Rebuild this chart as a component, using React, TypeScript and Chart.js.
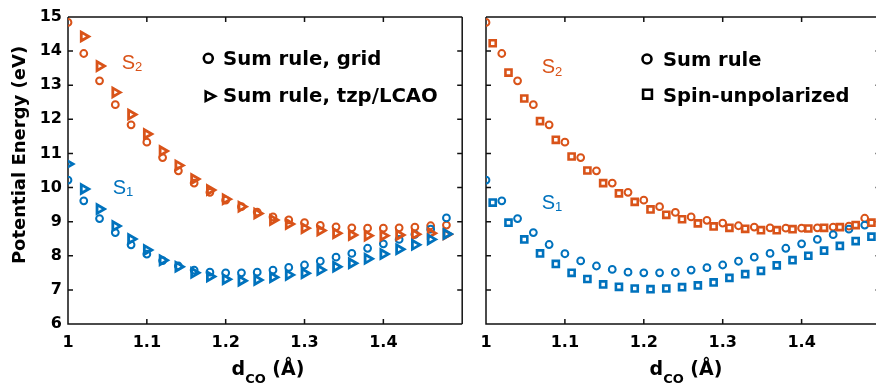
import React, { useEffect, useRef } from "react";
import { Chart, registerables } from "chart.js";

Chart.register(...registerables);

// ---------- data ----------
const xSum = [1.0, 1.02, 1.04, 1.06, 1.08, 1.1, 1.12, 1.14, 1.16, 1.18, 1.2, 1.22, 1.24, 1.26, 1.28, 1.3, 1.32, 1.34, 1.36, 1.38, 1.4, 1.42, 1.44, 1.46, 1.48];
const xUnpol = [1.0085, 1.0285, 1.0485, 1.0685, 1.0885, 1.1085, 1.1285, 1.1485, 1.1685, 1.1885, 1.2085, 1.2285, 1.2485, 1.2685, 1.2885, 1.3085, 1.3285, 1.3485, 1.3685, 1.3885, 1.4085, 1.4285, 1.4485, 1.4685, 1.4885];

// Sum rule, grid (left panel)
const s2SumLeft = [14.84, 13.93, 13.13, 12.43, 11.84, 11.33, 10.88, 10.49, 10.13, 9.86, 9.63, 9.44, 9.28, 9.14, 9.05, 8.97, 8.89, 8.85, 8.82, 8.81, 8.81, 8.82, 8.84, 8.88, 8.9];
const s1SumLeft = [10.22, 9.61, 9.09, 8.68, 8.32, 8.05, 7.86, 7.7, 7.58, 7.52, 7.5, 7.5, 7.52, 7.58, 7.66, 7.73, 7.84, 7.96, 8.07, 8.22, 8.35, 8.48, 8.63, 8.78, 9.11];
// Sum rule, tzp/LCAO
const s2Tzp = [null, 14.43, 13.56, 12.79, 12.14, 11.57, 11.07, 10.65, 10.25, 9.93, 9.66, 9.44, 9.24, 9.05, 8.93, 8.81, 8.74, 8.66, 8.61, 8.59, 8.59, 8.61, 8.63, 8.66, 8.63];
const s1Tzp = [10.69, 9.96, 9.37, 8.87, 8.49, 8.17, 7.87, 7.68, 7.5, 7.39, 7.31, 7.27, 7.29, 7.37, 7.44, 7.49, 7.58, 7.68, 7.78, 7.91, 8.05, 8.19, 8.32, 8.48, 8.64];
// Sum rule (right panel)
const s2SumRight = [14.84, 13.93, 13.13, 12.43, 11.84, 11.33, 10.88, 10.49, 10.13, 9.86, 9.63, 9.44, 9.27, 9.14, 9.04, 8.96, 8.88, 8.84, 8.82, 8.81, 8.81, 8.82, 8.84, 8.87, 9.1];
const s1SumRight = [10.22, 9.61, 9.09, 8.68, 8.33, 8.06, 7.85, 7.7, 7.6, 7.52, 7.5, 7.5, 7.51, 7.58, 7.65, 7.73, 7.84, 7.96, 8.07, 8.22, 8.35, 8.48, 8.62, 8.78, 8.9];
// Spin-unpolarized
const s2Unpol = [14.23, 13.37, 12.61, 11.95, 11.4, 10.91, 10.5, 10.13, 9.83, 9.58, 9.36, 9.2, 9.07, 8.95, 8.86, 8.82, 8.79, 8.75, 8.75, 8.78, 8.8, 8.82, 8.84, 8.9, 8.97];
const s1Unpol = [9.56, 8.97, 8.48, 8.07, 7.76, 7.5, 7.32, 7.16, 7.09, 7.04, 7.02, 7.04, 7.08, 7.13, 7.22, 7.35, 7.46, 7.56, 7.72, 7.87, 8.0, 8.15, 8.29, 8.43, 8.56];

const xTicks = [1, 1.1, 1.2, 1.3, 1.4];
const yTicks = [6, 7, 8, 9, 10, 11, 12, 13, 14, 15];

const ORANGE = "#D95319";
const BLUE = "#0072BD";
const FONT = "'DejaVu Sans', Verdana, sans-serif";

const pts = (xs: number[], ys: (number | null)[]) =>
  xs.map((x, i) => ({ x, y: ys[i] })).filter((p) => p.y !== null);

function circleDs(xs: number[], ys: (number | null)[], color: string) {
  return {
    data: pts(xs, ys),
    pointStyle: "circle",
    pointRadius: 3.4,
    borderWidth: 2,
    borderColor: color,
    backgroundColor: "rgba(0,0,0,0)",
    showLine: false,
  };
}
function triDs(xs: number[], ys: (number | null)[], color: string) {
  return {
    data: pts(xs, ys),
    pointStyle: "triangle",
    rotation: 90,
    pointRadius: 5,
    borderWidth: 2.8,
    borderColor: color,
    backgroundColor: "rgba(0,0,0,0)",
    showLine: false,
  };
}
function sqDs(xs: number[], ys: (number | null)[], color: string) {
  return {
    data: pts(xs, ys),
    pointStyle: "rect",
    pointRadius: 4.3,
    borderWidth: 2.6,
    borderColor: color,
    backgroundColor: "rgba(0,0,0,0)",
    showLine: false,
  };
}

function drawSub(ctx: CanvasRenderingContext2D, x: number, y: number, main: string, sub: string, font: string, subFont: string, subDy: number, color: string, after?: string) {
  ctx.fillStyle = color;
  ctx.textAlign = "left";
  ctx.textBaseline = "alphabetic";
  ctx.font = font;
  ctx.fillText(main, x, y);
  const w1 = ctx.measureText(main).width;
  ctx.font = subFont;
  ctx.fillText(sub, x + w1, y + subDy);
  const w2 = ctx.measureText(sub).width;
  if (after) {
    ctx.font = font;
    ctx.fillText(after, x + w1 + w2, y);
  }
}

function xTitleWidth(ctx: CanvasRenderingContext2D) {
  ctx.font = `bold 19px ${FONT}`;
  const a = ctx.measureText("d").width + ctx.measureText(" (Å)").width;
  ctx.font = `bold 13px ${FONT}`;
  return a + ctx.measureText("CO").width;
}

function makeFramePlugin(drawRight: boolean) {
  return {
    id: "frame",
    beforeDatasetsDraw(chart: any) {
      const { ctx, chartArea } = chart;
      const { left, right, top, bottom } = chartArea;
      const xs = chart.scales.x;
      const ys = chart.scales.y;
      ctx.save();
      ctx.strokeStyle = "#111";
      ctx.lineWidth = 1.5;
      ctx.beginPath();
      ctx.moveTo(left, top);
      ctx.lineTo(left, bottom);
      ctx.lineTo(right, bottom);
      ctx.moveTo(left, top);
      ctx.lineTo(right, top);
      if (drawRight) {
        ctx.moveTo(right, top);
        ctx.lineTo(right, bottom);
      }
      const tl = 5;
      xTicks.forEach((v) => {
        const px = xs.getPixelForValue(v);
        ctx.moveTo(px, bottom);
        ctx.lineTo(px, bottom - tl);
        ctx.moveTo(px, top);
        ctx.lineTo(px, top + tl);
      });
      yTicks.forEach((v) => {
        const py = ys.getPixelForValue(v);
        ctx.moveTo(left, py);
        ctx.lineTo(left + tl, py);
        ctx.moveTo(right, py);
        ctx.lineTo(right - tl, py);
      });
      ctx.stroke();
      ctx.restore();
    },
  };
}

type Label = { text: string; sub: string; x: number; y: number; subDy: number; color: string };
type LegendItem = { marker: "circle" | "triangle" | "square"; text: string; mx: number; my: number; tx: number; ty: number };

function makeTextPlugin(offsetX: number, labels: Label[], legend: LegendItem[], legendSize: number, xTitleCx: number, yTitle: boolean) {
  return {
    id: "texts",
    afterDraw(chart: any) {
      const ctx: CanvasRenderingContext2D = chart.ctx;
      ctx.save();
      labels.forEach((l) => {
        drawSub(ctx, l.x - offsetX, l.y, l.text, l.sub, `20px 'Liberation Sans', Arial, sans-serif`, `13px 'Liberation Sans', Arial, sans-serif`, l.subDy, l.color);
      });
      legend.forEach((it) => {
        const mx = it.mx - offsetX;
        ctx.strokeStyle = "#000";
        ctx.lineWidth = 2.6;
        ctx.beginPath();
        if (it.marker === "circle") {
          ctx.arc(mx, it.my, 4.5, 0, Math.PI * 2);
        } else if (it.marker === "square") {
          ctx.rect(mx - 4.4, it.my - 4.4, 8.8, 8.8);
        } else {
          ctx.moveTo(mx + 5.5, it.my);
          ctx.lineTo(mx - 3.8, it.my - 4.6);
          ctx.lineTo(mx - 3.8, it.my + 4.6);
          ctx.closePath();
        }
        ctx.stroke();
        ctx.fillStyle = "#000";
        ctx.font = `bold ${legendSize}px ${FONT}`;
        ctx.textAlign = "left";
        ctx.textBaseline = "alphabetic";
        ctx.fillText(it.text, it.tx - offsetX, it.ty);
      });
      // x title
      const w = xTitleWidth(ctx);
      drawSub(ctx, xTitleCx - offsetX - w / 2, 375, "d", "CO", `bold 19px ${FONT}`, `bold 13px ${FONT}`, 8, "#000", " (Å)");
      if (yTitle) {
        ctx.translate(20, 155);
        ctx.rotate(-Math.PI / 2);
        ctx.font = `bold 18px ${FONT}`;
        ctx.fillStyle = "#000";
        ctx.textAlign = "center";
        ctx.textBaseline = "middle";
        ctx.fillText("Potential Energy (eV)", 0, 0);
      }
      ctx.restore();
    },
  };
}

function baseOptions(yWidth: number, padRight: number, showYLabels: boolean) {
  return {
    responsive: false,
    maintainAspectRatio: false,
    animation: false,
    devicePixelRatio: 1,
    layout: { padding: { left: 0, right: padRight, top: 17, bottom: 0 } },
    plugins: { legend: { display: false }, tooltip: { enabled: false }, title: { display: false } },
    scales: {
      x: {
        type: "linear",
        min: 1,
        max: 1.5,
        afterBuildTicks: (s: any) => {
          s.ticks = xTicks.map((v) => ({ value: v }));
        },
        afterFit: (s: any) => {
          s.height = 63;
        },
        ticks: {
          color: "#000",
          padding: 9,
          maxRotation: 0,
          autoSkip: false,
          font: { family: FONT, weight: "bold", size: 16 },
          callback: (v: any) => String(Number(v)),
        },
        grid: { display: false, drawTicks: false },
        border: { display: false },
      },
      y: {
        type: "linear",
        min: 6,
        max: 15,
        afterBuildTicks: (s: any) => {
          s.ticks = yTicks.map((v) => ({ value: v }));
        },
        afterFit: (s: any) => {
          s.width = yWidth;
        },
        ticks: {
          display: showYLabels,
          color: "#000",
          padding: 6,
          autoSkip: false,
          font: { family: FONT, weight: "bold", size: 16 },
          callback: (v: any) => String(Number(v)),
        },
        grid: { display: false, drawTicks: false },
        border: { display: false },
      },
    },
  };
}

export default function App() {
  const leftRef = useRef<HTMLCanvasElement>(null);
  const rightRef = useRef<HTMLCanvasElement>(null);

  useEffect(() => {
    const left = new Chart(leftRef.current as HTMLCanvasElement, {
      type: "scatter",
      data: {
        datasets: [
          triDs(xSum, s1Tzp, BLUE),
          triDs(xSum, s2Tzp, ORANGE),
          circleDs(xSum, s1SumLeft, BLUE),
          circleDs(xSum, s2SumLeft, ORANGE),
        ] as any,
      },
      options: baseOptions(68, 7.4, true) as any,
      plugins: [
        makeFramePlugin(true),
        makeTextPlugin(
          0,
          [
            { text: "S", sub: "2", x: 121.7, y: 68.5, subDy: 2.5, color: ORANGE },
            { text: "S", sub: "1", x: 112.7, y: 193.5, subDy: 2, color: BLUE },
          ],
          [
            { marker: "circle", text: "Sum rule, grid", mx: 208.3, my: 58.3, tx: 223, ty: 64.5 },
            { marker: "triangle", text: "Sum rule, tzp/LCAO", mx: 209.5, my: 96.2, tx: 223, ty: 101.5 },
          ],
          19.7,
          268,
          true
        ) as any,
      ],
    });
    const right = new Chart(rightRef.current as HTMLCanvasElement, {
      type: "scatter",
      data: {
        datasets: [
          sqDs(xUnpol, s1Unpol, BLUE),
          sqDs(xUnpol, s2Unpol, ORANGE),
          circleDs(xSum, s1SumRight, BLUE),
          circleDs(xSum, s2SumRight, ORANGE),
        ] as any,
      },
      options: baseOptions(16, 9.5, false) as any,
      plugins: [
        makeFramePlugin(true),
        makeTextPlugin(
          470,
          [
            { text: "S", sub: "2", x: 541.7, y: 72.7, subDy: 3, color: ORANGE },
            { text: "S", sub: "1", x: 541.7, y: 209, subDy: 2, color: BLUE },
          ],
          [
            { marker: "circle", text: "Sum rule", mx: 647, my: 59, tx: 663, ty: 66 },
            { marker: "square", text: "Spin-unpolarized", mx: 647.5, my: 94.2, tx: 663, ty: 102 },
          ],
          19.5,
          686,
          false
        ) as any,
      ],
    });
    return () => {
      left.destroy();
      right.destroy();
    };
  }, []);

  return (
    <div style={{ position: "absolute", left: 0, top: 0, width: 876, height: 387, overflow: "hidden", background: "#fff" }}>
      <canvas ref={leftRef} width={470} height={387} style={{ position: "absolute", left: 0, top: 0, width: 470, height: 387 }} />
      <canvas ref={rightRef} width={420} height={387} style={{ position: "absolute", left: 470, top: 0, width: 420, height: 387 }} />
    </div>
  );
}
